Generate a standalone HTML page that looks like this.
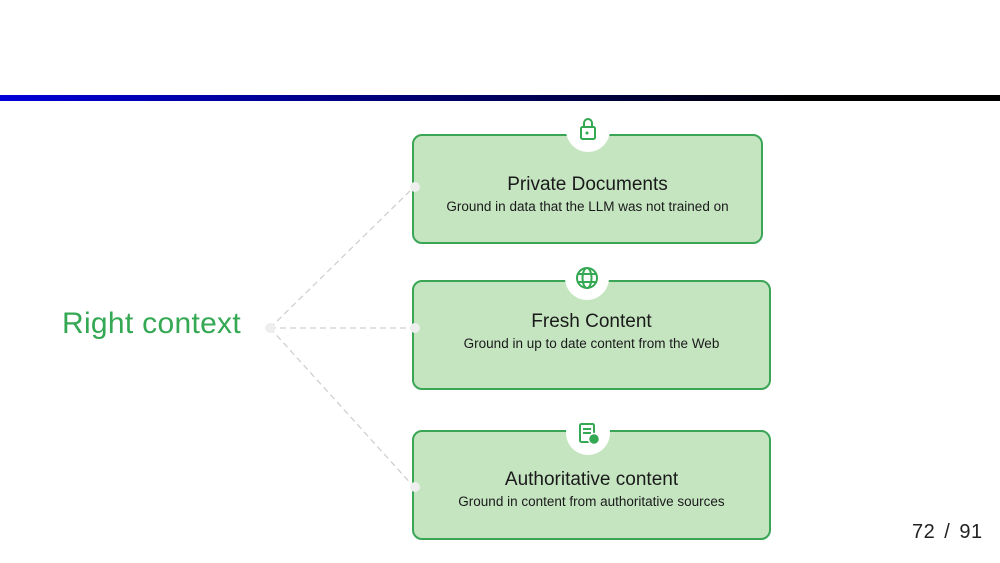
<!DOCTYPE html>
<html><head><style>
body{margin:0;width:1000px;height:563px;background:#fff;position:relative;overflow:hidden;font-family:"Liberation Sans",sans-serif}
.bar{position:absolute;left:0;top:95px;width:1000px;height:6px;background:linear-gradient(90deg,#0000d8,#000050 55%,#000 80%)}
.box{position:absolute;background:#c5e5c1;border:2px solid #3aa655;border-radius:10px;box-sizing:border-box;text-align:center;color:#1a1a1a}
.t{font-size:19px}
.s{font-size:13.5px;margin-top:3px}
</style></head><body>
<div class="bar"></div>
<svg style="position:absolute;left:0;top:0" width="1000" height="563">
<g stroke="#d0d0d0" stroke-width="1.3" stroke-dasharray="6,4" fill="none">
<line x1="270" y1="328" x2="414" y2="187"/>
<line x1="270" y1="328" x2="414" y2="328"/>
<line x1="270" y1="328" x2="414" y2="487"/>
</g>
<circle cx="270" cy="328" r="5" fill="#eee"/>
</svg>
<div style="position:absolute;left:62px;top:307px;font-size:30px;color:#34a853;letter-spacing:0.3px">Right context</div>
<div class="box" style="left:412px;top:134px;width:351px;height:110px;padding-top:38px"><div class="t">Private Documents</div><div class="s">Ground in data that the LLM was not trained on</div></div>
<div class="box" style="left:412px;top:280px;width:359px;height:110px;padding-top:29px"><div class="t">Fresh Content</div><div class="s">Ground in up to date content from the Web</div></div>
<div class="box" style="left:412px;top:430px;width:359px;height:110px;padding-top:37px"><div class="t">Authoritative content</div><div class="s">Ground in content from authoritative sources</div></div>
<svg style="position:absolute;left:0;top:0" width="1000" height="563">
<circle cx="415" cy="187" r="5" fill="#eee"/><circle cx="415" cy="328" r="5" fill="#eee"/><circle cx="415" cy="487" r="5" fill="#eee"/>
<circle cx="588" cy="130" r="22" fill="#fff"/><circle cx="587" cy="278" r="22" fill="#fff"/><circle cx="588" cy="433" r="22" fill="#fff"/>
<g fill="none" stroke="#34a853" stroke-width="2">
<rect x="581" y="127" width="14" height="12" rx="1.5"/><path d="M584 127v-4a4 4 0 0 1 8 0v4"/>
<circle cx="587" cy="278" r="10"/><ellipse cx="587" cy="278" rx="4.5" ry="10"/><line x1="577" y1="274" x2="597" y2="274"/><line x1="577" y1="282" x2="597" y2="282"/>
<rect x="580" y="424" width="14" height="18" rx="1.5"/><line x1="583" y1="429" x2="591" y2="429"/><line x1="583" y1="433" x2="591" y2="433"/>
</g>
<circle cx="594" cy="439" r="5.5" fill="#34a853" stroke="#fff" stroke-width="1.5"/>
<circle cx="587" cy="133" r="1.5" fill="#34a853"/>
</svg>
<div style="position:absolute;left:912px;top:521px;font-size:20px;color:#222;word-spacing:3px;letter-spacing:0.5px">72 / 91</div>
</body></html>
